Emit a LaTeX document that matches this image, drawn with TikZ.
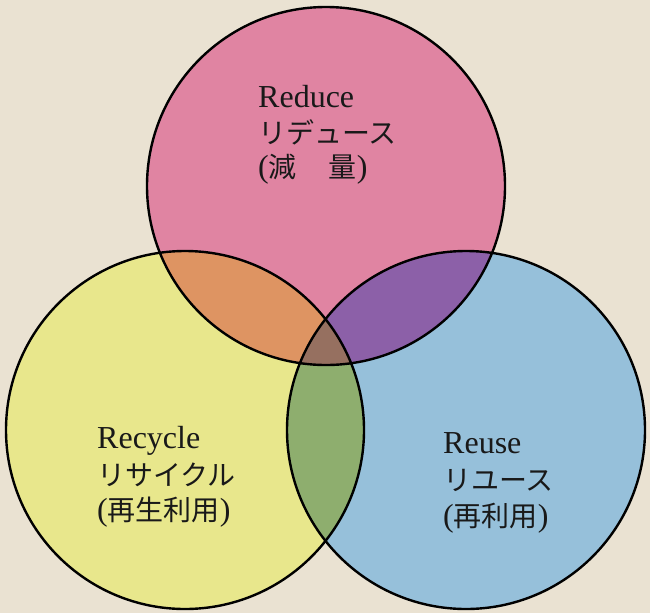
\documentclass[tikz,border=0pt]{standalone}
\usepackage{fontspec}
\setmainfont{Liberation Serif}
\newfontfamily\jp{Noto Sans CJK JP}
\usetikzlibrary{calc}

\definecolor{paper}{RGB}{234,226,210}
\definecolor{reducepink}{RGB}{224,132,162}
\definecolor{recycleyellow}{RGB}{232,231,140}
\definecolor{reuseblue}{RGB}{150,192,218}
\definecolor{rrorange}{RGB}{222,148,98}
\definecolor{rrpurple}{RGB}{140,96,168}
\definecolor{rrgreen}{RGB}{142,174,110}
\definecolor{rrbrown}{RGB}{150,112,96}

\tikzset{
  ring/.style={line width=2.4pt, draw=black},
  lbl/.style={anchor=base west, inner sep=0pt, text=black!90, font=\fontsize{32}{36}\selectfont},
}
\def\rad{179pt}
\newcommand\jptext[1]{{\jp\fontsize{28}{34}\selectfont #1}}

\begin{document}
\begin{tikzpicture}[x=1pt, y=-1pt]
		%%%%% START %%%%%
		
		\fill[paper] (0, 0) rectangle (650, 613);
		\useasboundingbox (0, 0) rectangle (650, 613);
		
		\coordinate (reduce) at (326, 186);
		\coordinate (recycle) at (185, 430);
		\coordinate (reuse) at (466, 430);
		
		% plain circles
		\fill[reducepink] (reduce) circle (\rad);
		\fill[recycleyellow] (recycle) circle (\rad);
		\fill[reuseblue] (reuse) circle (\rad);
		
		% overlaps
		\begin{scope}
			\clip (reduce) circle (\rad);
			\fill[rrorange] (recycle) circle (\rad);
			\fill[rrpurple] (reuse) circle (\rad);
		\end{scope}
		\begin{scope}
			\clip (recycle) circle (\rad);
			\fill[rrgreen] (reuse) circle (\rad);
			\clip (reduce) circle (\rad);
			\fill[rrbrown] (reuse) circle (\rad);
		\end{scope}
		
		\draw[ring] (reduce) circle (\rad);
		\draw[ring] (recycle) circle (\rad);
		\draw[ring] (reuse) circle (\rad);
		
		% labels
		\node[lbl] (reduceen) at (258, 107) {Reduce};
		\node[lbl] (reducejp) at (258, 143) {\jptext{リデュース}};
		\node[lbl] (reducekj) at (258, 177) {(\jptext{減}\hspace{32pt}\jptext{量})};
		
		\node[lbl] (recycleen) at (97, 448) {Recycle};
		\node[lbl] (recyclejp) at (97, 485) {\jptext{リサイクル}};
		\node[lbl] (recyclekj) at (97, 520) {(\jptext{再生利用})};
		
		\node[lbl] (reuseen) at (443, 453) {Reuse};
		\node[lbl] (reusejp) at (443, 490) {\jptext{リユース}};
		\node[lbl] (reusekj) at (443, 526) {(\jptext{再利用})};
		
		%%%%% END %%%%%
\end{tikzpicture}
\end{document}
